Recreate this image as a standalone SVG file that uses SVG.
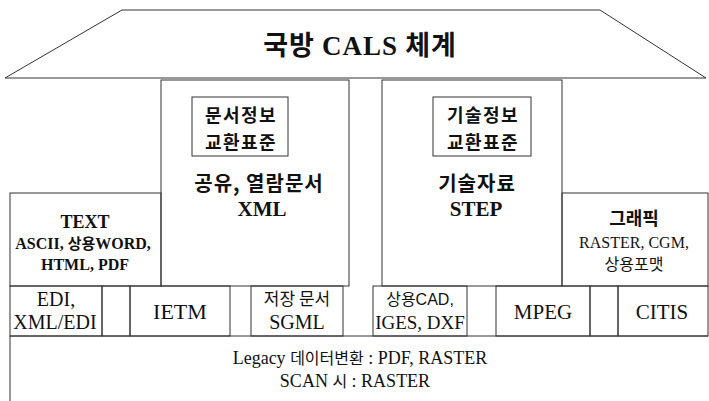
<svg xmlns="http://www.w3.org/2000/svg" width="709" height="401" viewBox="0 0 709 401">
<style>
.b{fill:none;stroke:#333;stroke-width:1}
.t{font-family:"Liberation Serif","Noto Sans CJK KR",serif;fill:#111;text-anchor:middle}
.k{font-family:"Noto Sans CJK KR","Liberation Sans",sans-serif;fill:#111;text-anchor:middle}
.bd{font-weight:bold}
.ib{font-size:18px;letter-spacing:1.5px}
</style>
<rect width="709" height="401" fill="#fff"/>
<g id="roof">
<polygon class="b" points="122,10 600,10 706,78 5,78"/>
<text class="k bd" x="360" y="55" font-size="27" letter-spacing="1">국방 <tspan font-family="Liberation Serif" font-size="27">CALS</tspan> 체계</text>
</g>
<g id="xml">
<rect class="b" x="161" y="80" width="188" height="206"/>
<rect class="b" x="192" y="97" width="96" height="59"/>
<text class="k bd ib" x="241" y="122">문서정보</text>
<text class="k bd ib" x="241" y="149">교환표준</text>
<text class="k bd" x="259" y="191" font-size="20" letter-spacing="1">공유, 열람문서</text>
<text class="t bd" x="262" y="216" font-size="21">XML</text>
</g>
<g id="step">
<rect class="b" x="382" y="80" width="180" height="206"/>
<rect class="b" x="433" y="97" width="98" height="59"/>
<text class="k bd ib" x="483" y="122">기술정보</text>
<text class="k bd ib" x="483" y="149">교환표준</text>
<text class="k bd" x="477" y="191" font-size="20" letter-spacing="1">기술자료</text>
<text class="t bd" x="476" y="216" font-size="21">STEP</text>
</g>
<g id="text">
<rect class="b" x="10" y="193" width="151" height="93"/>
<text class="t bd" x="85" y="228" font-size="18">TEXT</text>
<text class="t bd" x="83" y="249" font-size="16">ASCII, <tspan font-family="Noto Sans CJK KR" font-size="15">상용</tspan>WORD,</text>
<text class="t bd" x="85" y="270" font-size="16">HTML, PDF</text>
</g>
<g id="graphic">
<rect class="b" x="562" y="193" width="146" height="93"/>
<text class="k bd" x="634" y="225" font-size="18">그래픽</text>
<text class="t" x="634" y="248" font-size="16">RASTER, CGM,</text>
<text class="k" x="634" y="270" font-size="16">상용포맷</text>
</g>
<g id="edi">
<rect class="b" x="10" y="286" width="92" height="50"/>
<text class="t" x="56" y="306" font-size="20">EDI,</text>
<text class="t" x="55" y="329" font-size="20">XML/EDI</text>
</g>
<g id="spacer1"><rect class="b" x="102" y="286" width="28" height="50"/></g>
<g id="ietm">
<rect class="b" x="130" y="286" width="100" height="50"/>
<text class="t" x="180" y="319" font-size="22">IETM</text>
</g>
<g id="sgml">
<rect class="b" x="251" y="286" width="92" height="50"/>
<text class="k" x="297" y="305" font-size="17">저장 문서</text>
<text class="t" x="297" y="329" font-size="20">SGML</text>
</g>
<g id="cad">
<rect class="b" x="373" y="286" width="94" height="50"/>
<text class="k" x="420" y="305" font-size="16">상용<tspan font-family="Liberation Sans">CAD,</tspan></text>
<text class="t" x="420" y="329" font-size="19">IGES, DXF</text>
</g>
<g id="mpeg">
<rect class="b" x="496" y="286" width="94" height="50"/>
<text class="t" x="543" y="319" font-size="21">MPEG</text>
</g>
<g id="spacer2"><rect class="b" x="590" y="286" width="28" height="50"/></g>
<g id="citis">
<rect class="b" x="618" y="286" width="90" height="50"/>
<text class="t" x="662" y="319" font-size="21">CITIS</text>
</g>
<g id="legacy">
<path class="b" d="M10,336 H708 M10,336 V401"/>
<text class="t" x="360" y="364" font-size="18">Legacy <tspan font-family="Noto Sans CJK KR" font-size="16">데이터변환</tspan> : PDF, RASTER</text>
<text class="t" x="355" y="387" font-size="18">SCAN <tspan font-family="Noto Sans CJK KR" font-size="16">시</tspan> : RASTER</text>
</g>
</svg>
